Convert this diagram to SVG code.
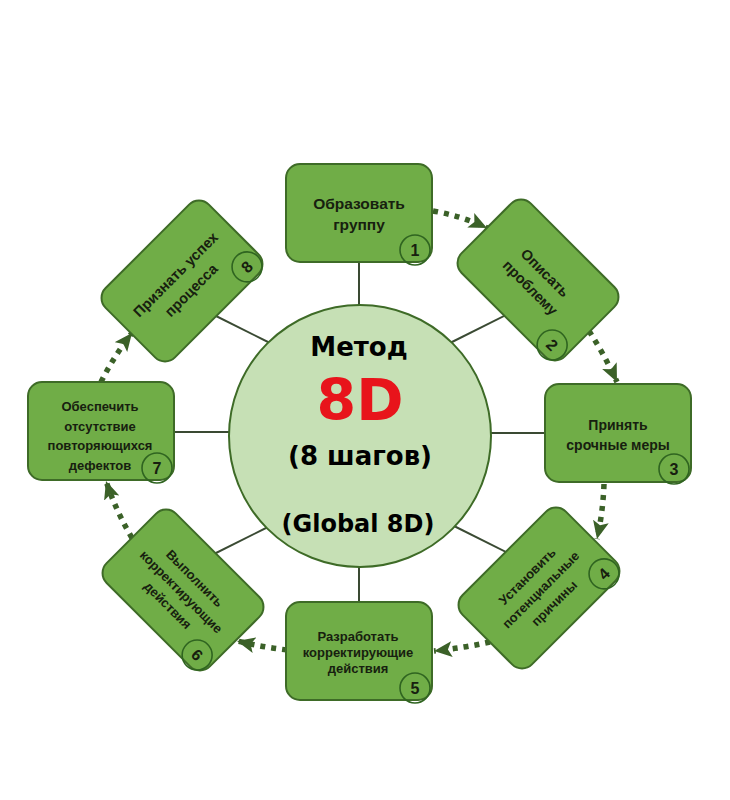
<svg xmlns="http://www.w3.org/2000/svg" width="730" height="800" viewBox="0 0 730 800">
<style>
.box{fill:#70ad47;stroke:#3e6b27;stroke-width:2}
.num{fill:none;stroke:#2f6420;stroke-width:1.6}
.t{font-family:"Liberation Sans",Arial,sans-serif;font-weight:bold;fill:#17200f;text-anchor:middle}
.t2{font-size:14.5px}
.t3{font-size:13px}
.n{font-family:"Liberation Sans",Arial,sans-serif;font-weight:bold;font-size:16px;fill:#17200f;text-anchor:middle}
.link{stroke:#3a4a33;stroke-width:2;fill:none}
.flow{stroke:#3b6128;stroke-width:5.5;stroke-dasharray:5 6;fill:none;marker-end:url(#ah)}
.c{font-family:"DejaVu Sans",Arial,sans-serif;font-weight:bold;text-anchor:middle;fill:#000}
</style>
<defs>
<marker id="ah" markerUnits="userSpaceOnUse" markerWidth="20" markerHeight="18" viewBox="0 0 20 18" refX="18" refY="8" orient="auto">
<path d="M0,0 L18,8 L0,16 L4,8 z" fill="#3b6128"/>
</marker>
</defs>
<rect width="730" height="800" fill="#ffffff"/>
<g id="connectors">
<line class="link" x1="359" y1="250" x2="359" y2="310"/>
<line class="link" x1="359" y1="560" x2="359" y2="615"/>
<line class="link" x1="480" y1="433" x2="560" y2="433"/>
<line class="link" x1="160" y1="432" x2="240" y2="432"/>
<line class="link" x1="450" y1="343" x2="512" y2="312"/>
<line class="link" x1="450" y1="524" x2="512" y2="555"/>
<line class="link" x1="270" y1="526" x2="208" y2="557"/>
<line class="link" x1="270" y1="343" x2="208" y2="312"/>
<path class="flow" d="M433,211 Q462,216 487,228"/>
<path class="flow" d="M589,331 Q604,354 617,382"/>
<path class="flow" d="M604,484 Q603,512 597,539"/>
<path class="flow" d="M490,642 Q463,648 434,651"/>
<path class="flow" d="M287,650 Q262,647 237,641"/>
<path class="flow" d="M132,538 Q116,511 106,481"/>
<path class="flow" d="M101,382 Q114,356 132,333"/>
</g>
<g id="center">
<circle cx="360" cy="436" r="131" fill="#c6e0b5" stroke="#3e6b27" stroke-width="2"/>
<text class="c" x="359" y="356" font-size="26">Метод</text>
<text class="c" x="360" y="420" font-size="57" style="fill:#e8141b">8D</text>
<text class="c" x="360" y="465" font-size="26">(8 шагов)</text>
<text class="c" x="358" y="532" font-size="24">(Global 8D)</text>
</g>
<g id="step1" transform="translate(359,213)">
<rect class="box" x="-73" y="-49" width="146" height="98" rx="14"/>
<text class="t" x="0" y="-4" font-size="15.5">Образовать</text>
<text class="t" x="0" y="17" font-size="15.5">группу</text>
<circle class="num" cx="56" cy="37" r="15"/>
<text class="n" x="56" y="42.5">1</text>
</g>
<g id="step2" transform="translate(538,280) rotate(45)">
<rect class="box" x="-73" y="-49" width="146" height="98" rx="14"/>
<text class="t t2" x="0" y="-5">Описать</text>
<text class="t t2" x="0" y="16">проблему</text>
<circle class="num" cx="56" cy="36" r="15"/>
<text class="n" x="56" y="41.5">2</text>
</g>
<g id="step3" transform="translate(618,433)">
<rect class="box" x="-73" y="-49" width="146" height="98" rx="14"/>
<text class="t" x="0" y="-3" font-size="14">Принять</text>
<text class="t" x="0" y="17" font-size="14">срочные меры</text>
<circle class="num" cx="56" cy="36" r="15"/>
<text class="n" x="56" y="41.5">3</text>
</g>
<g id="step4" transform="translate(539,588) rotate(-45)">
<rect class="box" x="-73" y="-49" width="146" height="98" rx="14"/>
<text class="t t3" x="0" y="-12">Установить</text>
<text class="t t3" x="0" y="7">потенциальные</text>
<text class="t t3" x="0" y="26">причины</text>
<circle class="num" cx="56" cy="36" r="15"/>
<text class="n" x="56" y="41.5">4</text>
</g>
<g id="step5" transform="translate(359,651)">
<rect class="box" x="-73" y="-49" width="146" height="98" rx="14"/>
<text class="t t3" x="-1" y="-10">Разработать</text>
<text class="t t3" x="-1" y="6">корректирующие</text>
<text class="t t3" x="-1" y="22">действия</text>
<circle class="num" cx="56" cy="37" r="15"/>
<text class="n" x="56" y="42.5">5</text>
</g>
<g id="step6" transform="translate(183,590) rotate(45)">
<rect class="box" x="-73" y="-49" width="146" height="98" rx="14"/>
<text class="t t3" x="0" y="-12">Выполнить</text>
<text class="t t3" x="0" y="7">корректирующие</text>
<text class="t t3" x="0" y="26">действия</text>
<circle class="num" cx="56" cy="36" r="15"/>
<text class="n" x="56" y="41.5">6</text>
</g>
<g id="step7" transform="translate(101,431)">
<rect class="box" x="-73" y="-49" width="146" height="98" rx="14"/>
<text class="t t3" x="-1" y="-20">Обеспечить</text>
<text class="t t3" x="-1" y="0">отсутствие</text>
<text class="t t3" x="-1" y="19">повторяющихся</text>
<text class="t t3" x="-1" y="39">дефектов</text>
<circle class="num" cx="56" cy="37" r="15"/>
<text class="n" x="56" y="42.5">7</text>
</g>
<g id="step8" transform="translate(182,281) rotate(-45)">
<rect class="box" x="-73" y="-49" width="146" height="98" rx="14"/>
<text class="t t2" x="0" y="-4">Признать успех</text>
<text class="t t2" x="0" y="18">процесса</text>
<circle class="num" cx="56" cy="36" r="15"/>
<text class="n" x="56" y="41.5">8</text>
</g>
</svg>
